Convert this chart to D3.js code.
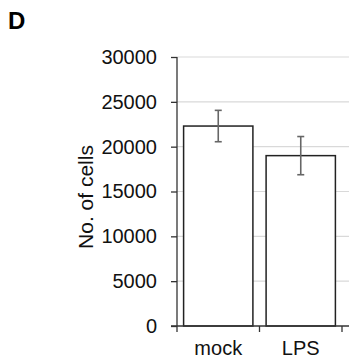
<!DOCTYPE html>
<html>
<head>
<meta charset="utf-8">
<script src="https://cdn.jsdelivr.net/npm/d3@7"></script>
<style>
  html, body { margin: 0; padding: 0; background: #fff; }
  svg { display: block; font-family: "Liberation Sans", Arial, Helvetica, sans-serif; }
</style>
</head>
<body>
<svg id="chart" width="349" height="362"></svg>
<script>
const categories = ["mock", "LPS"];
const means = [22300, 19000];
const errors = [1750, 2130];
const yTicks = [0, 5000, 10000, 15000, 20000, 25000, 30000];
const panelLabel = "D";
const yTitle = "No. of cells";

(function () {
const svg = d3.select("#chart");
const pLeft = 177, pRight = 342, pTop = 57, pBottom = 326;

const x = d3.scaleBand().domain(categories).range([pLeft, pRight])
  .paddingInner(0.16).paddingOuter(0.08);
const y = d3.scaleLinear().domain([0, 30000]).range([pBottom, pTop]);

// gridlines
svg.append("g").selectAll("line").data(yTicks.filter(d => d > 0)).join("line")
  .attr("x1", pLeft).attr("x2", 349)
  .attr("y1", d => y(d)).attr("y2", d => y(d))
  .attr("stroke", "#d9d9d9").attr("stroke-width", 1.2);

// bars
svg.append("g").selectAll("rect").data(categories).join("rect")
  .attr("x", d => x(d)).attr("width", x.bandwidth())
  .attr("y", (d, i) => y(means[i]))
  .attr("height", (d, i) => y(0) - y(means[i]))
  .attr("fill", "#fff").attr("stroke", "#222").attr("stroke-width", 1.5);

// error bars
const eg = svg.append("g").attr("stroke", "#666").attr("stroke-width", 1.6);
categories.forEach((c, i) => {
  const cx = x(c) + x.bandwidth() / 2;
  eg.append("line").attr("x1", cx).attr("x2", cx)
    .attr("y1", y(means[i] + errors[i])).attr("y2", y(means[i] - errors[i]));
  [means[i] + errors[i], means[i] - errors[i]].forEach(v => {
    eg.append("line").attr("x1", cx - 3.5).attr("x2", cx + 3.5)
      .attr("y1", y(v)).attr("y2", y(v));
  });
});

// y axis
const yAxis = d3.axisLeft(y).tickValues(yTicks).tickSize(6).tickPadding(14)
  .tickFormat(d3.format("d"));
const ya = svg.append("g").attr("transform", `translate(${pLeft},0)`).call(yAxis);
ya.select(".domain").remove();
ya.selectAll(".tick line").attr("stroke", "#333").attr("stroke-width", 1.3);
ya.selectAll(".tick text").attr("font-size", 20).attr("fill", "#111")
  .attr("font-family", "'Liberation Sans', Arial, sans-serif");
svg.append("line").attr("x1", pLeft).attr("x2", pLeft)
  .attr("y1", y(30000)).attr("y2", pBottom + 6)
  .attr("stroke", "#333").attr("stroke-width", 1.3);

// x axis
svg.append("line").attr("x1", pLeft - 6).attr("x2", 349)
  .attr("y1", pBottom).attr("y2", pBottom)
  .attr("stroke", "#333").attr("stroke-width", 1.3);
const half = x.step() * x.paddingInner() / 2;
const boundaries = categories.map(c => x(c) + x.bandwidth() + half);
svg.append("g").selectAll("line").data(boundaries).join("line")
  .attr("x1", d => d).attr("x2", d => d)
  .attr("y1", pBottom).attr("y2", pBottom + 6)
  .attr("stroke", "#333").attr("stroke-width", 1.3);
svg.append("g").selectAll("text").data(categories).join("text")
  .attr("x", d => x(d) + x.bandwidth() / 2).attr("y", 355)
  .attr("text-anchor", "middle").attr("font-size", 20).attr("fill", "#111")
  .text(d => d);

// y title
svg.append("text").attr("transform", "translate(93,197) rotate(-90)")
  .attr("text-anchor", "middle").attr("font-size", 21).attr("fill", "#111")
  .text(yTitle);

// panel label
svg.append("text").attr("x", 8).attr("y", 29)
  .attr("font-size", 24).attr("font-weight", "bold").attr("fill", "#000")
  .text(panelLabel);
})();
</script>
</body>
</html>
